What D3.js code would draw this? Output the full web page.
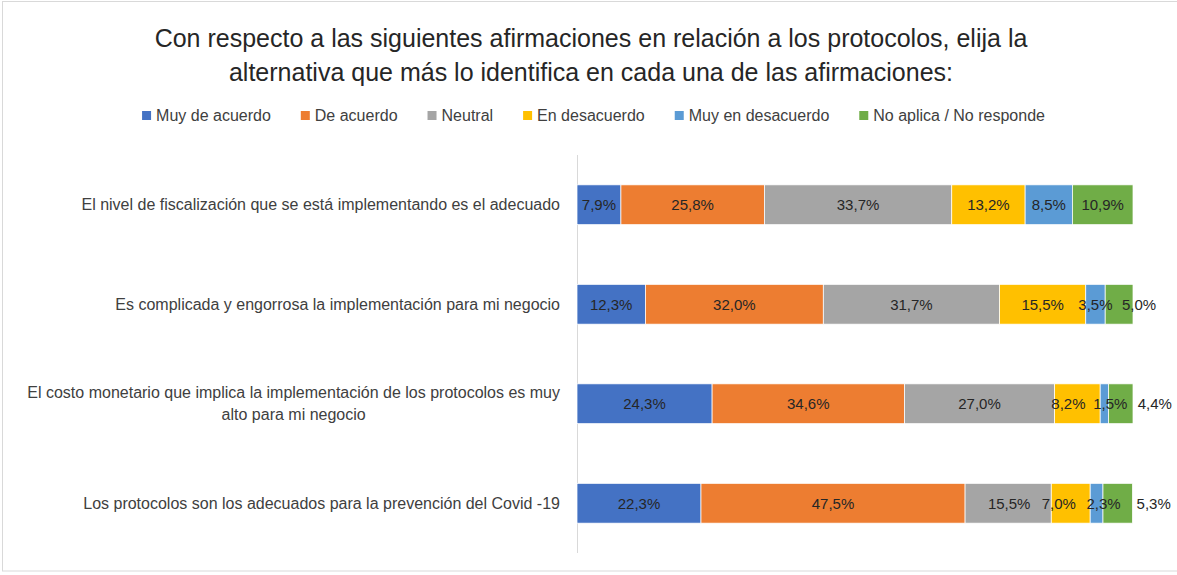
<!DOCTYPE html>
<html>
<head>
<meta charset="utf-8">
<script src="https://cdnjs.cloudflare.com/ajax/libs/d3/7.8.5/d3.min.js"></script>
<style>
  html, body { margin: 0; padding: 0; background: #fff; }
  svg { display: block; font-family: "Liberation Sans", Arial, sans-serif; }
</style>
</head>
<body>
<svg id="chart" width="1177" height="575"></svg>
<script>
// datos
const categories = [
  ['El nivel de fiscalización que se está implementando es el adecuado'],
  ['Es complicada y engorrosa la implementación para mi negocio'],
  ['El costo monetario que implica la implementación de los protocolos es muy', 'alto para mi negocio'],
  ['Los protocolos son los adecuados para la prevención del Covid -19']
];
const seriesNames = ['Muy de acuerdo', 'De acuerdo', 'Neutral', 'En desacuerdo', 'Muy en desacuerdo', 'No aplica / No responde'];
const muyDeAcuerdo    = [7.9, 12.3, 24.3, 22.3];
const deAcuerdo       = [25.8, 32.0, 34.6, 47.5];
const neutral         = [33.7, 31.7, 27.0, 15.5];
const enDesacuerdo    = [13.2, 15.5, 8.2, 7.0];
const muyEnDesacuerdo = [8.5, 3.5, 1.5, 2.3];
const noAplica        = [10.9, 5.0, 4.4, 5.3];
const titleLines = [
  'Con respecto a las siguientes afirmaciones en relación a los protocolos, elija la',
  'alternativa que más lo identifica en cada una de las afirmaciones:'
];

const colors = ['#4472C4', '#ED7D31', '#A5A5A5', '#FFC000', '#5B9BD5', '#70AD47'];
// desplazamiento manual de etiquetas (fila, serie -> dx)
const labelNudge = {'1-5': 20, '2-3': -9, '2-4': 6, '2-5': 34, '3-2': 1, '3-3': -12, '3-4': 7, '3-5': 36};

const allSeries = [muyDeAcuerdo, deAcuerdo, neutral, enDesacuerdo, muyEnDesacuerdo, noAplica];
const rows = categories.map((c, i) => {
  const r = {key: i};
  seriesNames.forEach((s, j) => r[s] = allSeries[j][i] / 100);
  return r;
});
const stacked = d3.stack().keys(seriesNames)(rows);

const svg = d3.select('#chart');

// borde
svg.append('rect')
  .attr('x', 2.5).attr('y', 1.5).attr('width', 1185).attr('height', 569.5)
  .attr('fill', 'none').attr('stroke', '#d9d9d9').attr('stroke-width', 1);

const x = d3.scaleLinear().domain([0, 1]).range([577, 1133]);
const y = d3.scaleBand().domain(d3.range(categories.length)).range([155, 553])
  .paddingInner(0.6).paddingOuter(0.3);

// titulo
svg.append('g').selectAll('text')
  .data(titleLines)
  .enter().append('text')
  .attr('x', 591)
  .attr('y', (d, i) => 47 + i * 34)
  .attr('text-anchor', 'middle')
  .attr('font-size', '25px')
  .attr('fill', '#262626')
  .text(d => d);

// leyenda
const legend = svg.append('g');
const items = legend.selectAll('g')
  .data(seriesNames)
  .enter().append('g');
items.append('rect')
  .attr('width', 9).attr('height', 9)
  .attr('y', 111)
  .attr('fill', (d, i) => colors[i]);
items.append('text')
  .attr('x', 14).attr('y', 121)
  .attr('font-size', '16px')
  .attr('fill', '#404040')
  .text(d => d);
let lx = 0;
const offsets = [];
items.each(function() {
  offsets.push(lx);
  lx += 14 + this.querySelector('text').getComputedTextLength() + 30;
});
lx -= 30;
items.attr('transform', (d, i) => `translate(${593.5 - lx / 2 + offsets[i]},0)`);

// eje vertical
svg.append('line')
  .attr('x1', x(0) + 0.5).attr('x2', x(0) + 0.5)
  .attr('y1', 155).attr('y2', 553)
  .attr('stroke', '#d9d9d9').attr('stroke-width', 1);

// barras
const layers = svg.append('g').selectAll('g')
  .data(stacked)
  .enter().append('g')
  .attr('fill', (d, i) => colors[i]);
layers.selectAll('rect')
  .data(d => d)
  .enter().append('rect')
  .attr('x', d => x(d[0]))
  .attr('y', (d, i) => y(i))
  .attr('width', d => x(d[1]) - x(d[0]))
  .attr('height', y.bandwidth())
  .attr('stroke', '#fff')
  .attr('stroke-width', 0.75);

// etiquetas de datos
stacked.forEach((layer, j) => {
  svg.append('g').selectAll('text')
    .data(layer)
    .enter().append('text')
    .attr('x', (d, i) => (x(d[0]) + x(d[1])) / 2 + (labelNudge[i + '-' + j] || 0))
    .attr('y', (d, i) => y(i) + y.bandwidth() / 2 + 5.5)
    .attr('text-anchor', 'middle')
    .attr('font-size', '15px')
    .attr('fill', '#262626')
    .text((d, i) => d3.format('.1f')(allSeries[j][i]).replace('.', ',') + '%');
});

// etiquetas de categorias
const catG = svg.append('g');
categories.forEach((lines, i) => {
  const cy = y(i) + y.bandwidth() / 2;
  const g = catG.append('g');
  const t = g.selectAll('text')
    .data(lines)
    .enter().append('text')
    .attr('y', (d, k) => cy + 5.5 + (k - (lines.length - 1) / 2) * 22)
    .attr('font-size', '16px')
    .attr('fill', '#404040')
    .text(d => d);
  const widths = [];
  t.each(function() { widths.push(this.getComputedTextLength()); });
  const maxW = d3.max(widths);
  t.attr('x', (d, k) => 560 - maxW / 2)
    .attr('text-anchor', 'middle');
});
</script>
</body>
</html>
